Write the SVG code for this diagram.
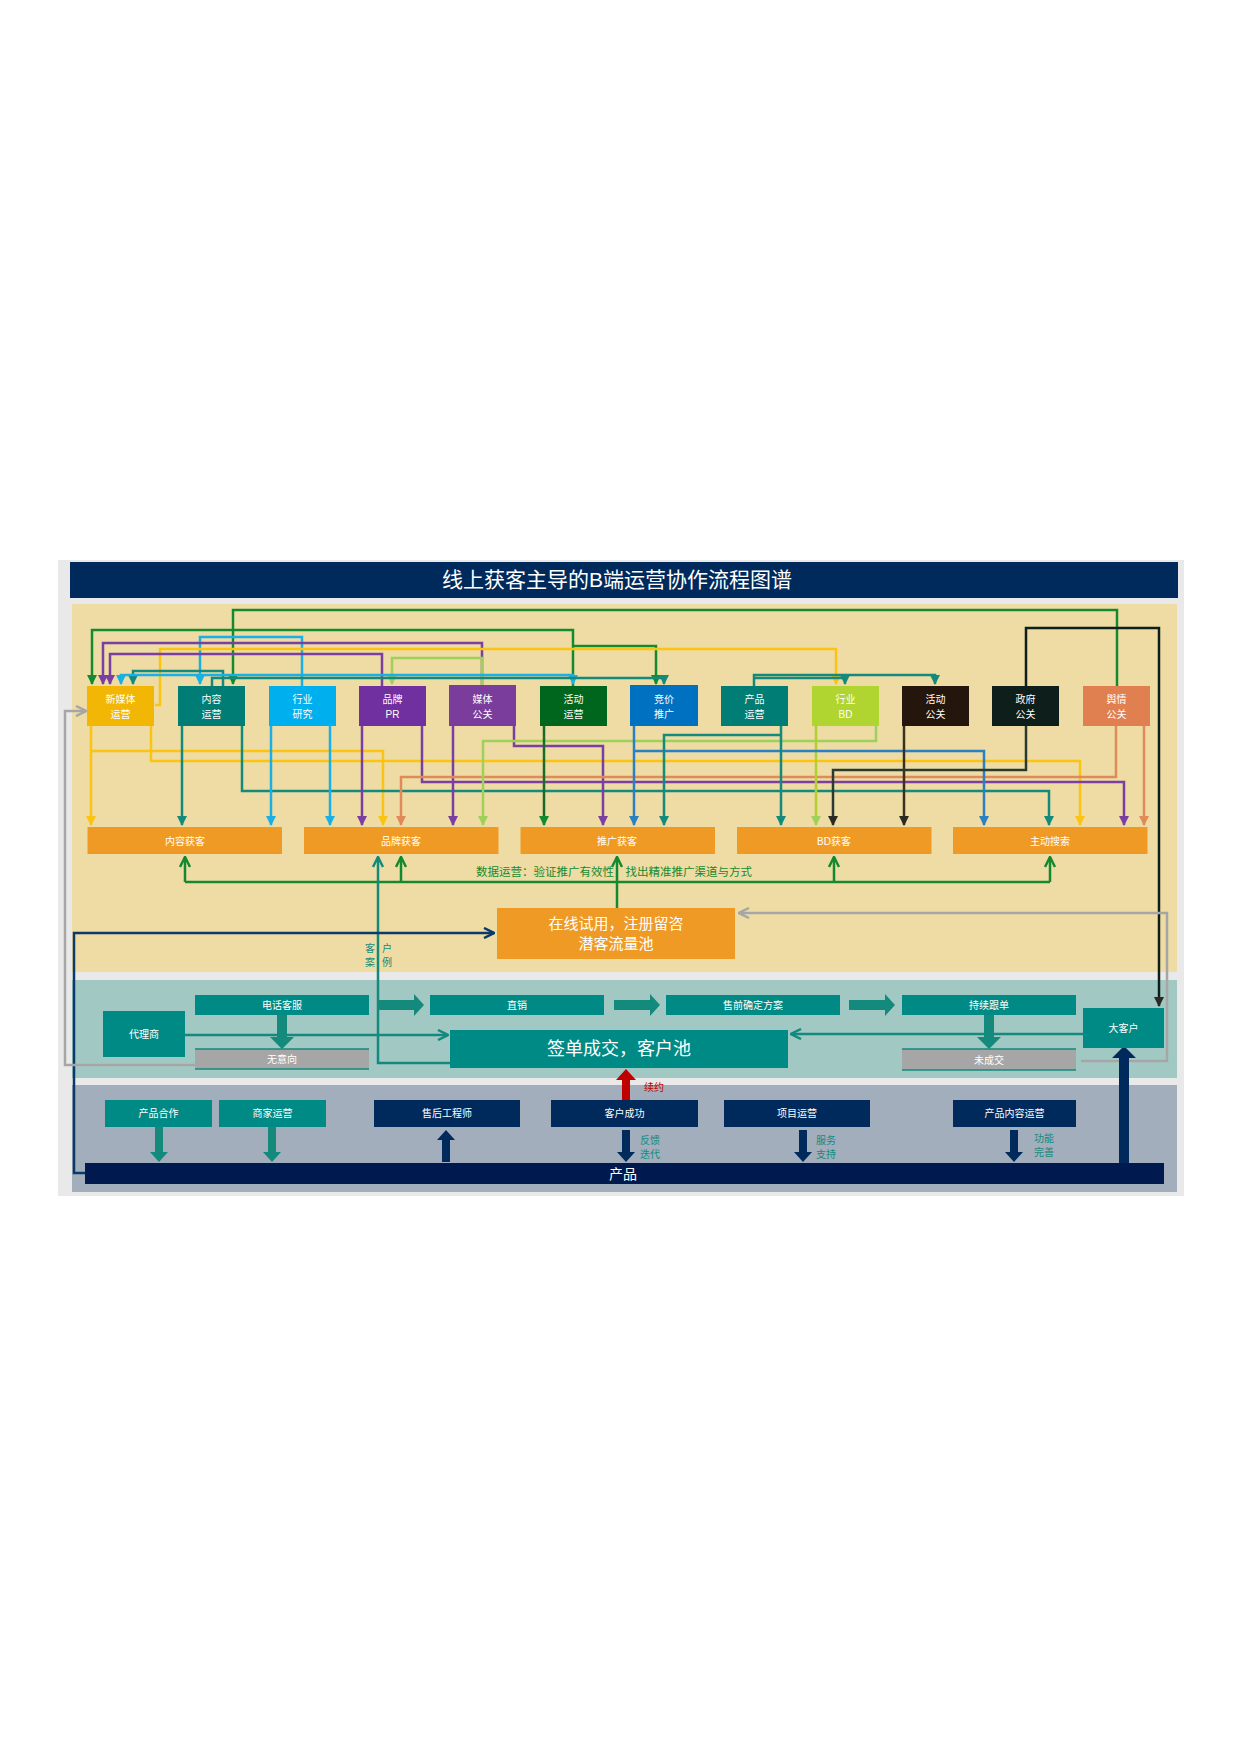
<svg xmlns="http://www.w3.org/2000/svg" width="1240" height="1754" viewBox="0 0 1240 1754">
<defs>
<style>
text{font-family:"Liberation Sans","Noto Sans CJK SC",sans-serif;fill:#fff;text-anchor:middle}
.s{font-size:10px}
.c{fill:none;stroke-width:2.5}
.t{fill:#008a86}
.n{fill:#002a5c}
</style>
<marker id="mY" viewBox="0 0 10 10" refX="9" refY="5" markerWidth="4" markerHeight="4" orient="auto"><path d="M0,0L10,5L0,10z" fill="#fbc312"/></marker>
<marker id="mT" viewBox="0 0 10 10" refX="9" refY="5" markerWidth="4" markerHeight="4" orient="auto"><path d="M0,0L10,5L0,10z" fill="#138a7c"/></marker>
<marker id="mC" viewBox="0 0 10 10" refX="9" refY="5" markerWidth="4" markerHeight="4" orient="auto"><path d="M0,0L10,5L0,10z" fill="#1ab0e6"/></marker>
<marker id="mP" viewBox="0 0 10 10" refX="9" refY="5" markerWidth="4" markerHeight="4" orient="auto"><path d="M0,0L10,5L0,10z" fill="#7a3fa0"/></marker>
<marker id="mL" viewBox="0 0 10 10" refX="9" refY="5" markerWidth="4" markerHeight="4" orient="auto"><path d="M0,0L10,5L0,10z" fill="#9fd05a"/></marker>
<marker id="mG" viewBox="0 0 10 10" refX="9" refY="5" markerWidth="4" markerHeight="4" orient="auto"><path d="M0,0L10,5L0,10z" fill="#148a30"/></marker>
<marker id="mB" viewBox="0 0 10 10" refX="9" refY="5" markerWidth="4" markerHeight="4" orient="auto"><path d="M0,0L10,5L0,10z" fill="#2a80c0"/></marker>
<marker id="mK" viewBox="0 0 10 10" refX="9" refY="5" markerWidth="4" markerHeight="4" orient="auto"><path d="M0,0L10,5L0,10z" fill="#2a2a22"/></marker>
<marker id="mO" viewBox="0 0 10 10" refX="9" refY="5" markerWidth="4" markerHeight="4" orient="auto"><path d="M0,0L10,5L0,10z" fill="#e08a5a"/></marker>
<marker id="mOpenG" viewBox="0 0 10 10" refX="9" refY="5" markerWidth="5" markerHeight="5" orient="auto"><path d="M1,1L9,5L1,9" fill="none" stroke="#148a30" stroke-width="2"/></marker>
<marker id="mOpenT" viewBox="0 0 10 10" refX="9" refY="5" markerWidth="5" markerHeight="5" orient="auto"><path d="M1,1L9,5L1,9" fill="none" stroke="#138a7c" stroke-width="2"/></marker>
<marker id="mOpenN" viewBox="0 0 10 10" refX="9" refY="5" markerWidth="5" markerHeight="5" orient="auto"><path d="M1,1L9,5L1,9" fill="none" stroke="#0a3a6a" stroke-width="2"/></marker>
<marker id="mOpenA" viewBox="0 0 10 10" refX="9" refY="5" markerWidth="5" markerHeight="5" orient="auto"><path d="M1,1L9,5L1,9" fill="none" stroke="#a6a6a6" stroke-width="2"/></marker>
</defs>
<rect width="1240" height="1754" fill="#fff"/>
<rect x="58" y="560" width="1126" height="636" fill="#e9e9e9"/>
<rect x="70" y="562" width="1108" height="36" fill="#002a5c"/>
<text x="617" y="587" font-size="21">线上获客主导的B端运营协作流程图谱</text>
<rect x="72" y="604" width="1105" height="368" fill="#eedca4"/>
<rect x="72" y="980" width="1105" height="98" fill="#a2c8c4"/>
<rect x="72" y="1085" width="1105" height="107" fill="#a2aebc"/>

<g id="connectors">
<polyline class="c" stroke="#148a30" points="1117,686 1117,610 233,610 233,684" marker-end="url(#mG)"/>
<polyline class="c" stroke="#148a30" points="573,686 573,630 92,630 92,684" marker-end="url(#mG)"/>
<polyline class="c" stroke="#148a30" points="573,646 656,646 656,684" marker-end="url(#mG)"/>
<polyline class="c" stroke="#1ab0e6" points="302,686 302,637 200,637 200,684" marker-end="url(#mC)"/>
<polyline class="c" stroke="#7a3fa0" points="482,686 482,643 103,643 103,684" marker-end="url(#mP)"/>
<polyline class="c" stroke="#fbc312" points="155,705 160,705 160,649 836,649 836,684" marker-end="url(#mY)"/>
<polyline class="c" stroke="#7a3fa0" points="382,686 382,654 110,654 110,684" marker-end="url(#mP)"/>
<polyline class="c" stroke="#9fd05a" points="482,686 482,658 392,658 392,684" marker-end="url(#mL)"/>
<polyline class="c" stroke="#138a7c" points="223,686 223,671 133,671 133,684" marker-end="url(#mT)"/>
<polyline class="c" stroke="#1ab0e6" points="302,675 121,675 121,684" marker-end="url(#mC)"/>
<polyline class="c" stroke="#1ab0e6" points="302,675 573,675 573,684" marker-end="url(#mC)"/>
<polyline class="c" stroke="#138a7c" points="212,686 212,678 664,678 664,684" marker-end="url(#mT)"/>
<polyline class="c" stroke="#138a7c" points="754,686 754,675 935,675 935,684" marker-end="url(#mT)"/>
<polyline class="c" stroke="#138a7c" points="754,678 845,678 845,684" marker-end="url(#mT)"/>
<polyline class="c" stroke="#0d1f1a" points="1026,686 1026,628 1159,628 1159,1006" marker-end="url(#mK)"/>
<polyline class="c" stroke="#fbc312" points="91,726 91,825" marker-end="url(#mY)"/>
<polyline class="c" stroke="#fbc312" points="91,751 383,751 383,825" marker-end="url(#mY)"/>
<polyline class="c" stroke="#fbc312" points="151,726 151,761 1080,761 1080,825" marker-end="url(#mY)"/>
<polyline class="c" stroke="#138a7c" points="182,726 182,825" marker-end="url(#mT)"/>
<polyline class="c" stroke="#138a7c" points="242,726 242,791 1049,791 1049,825" marker-end="url(#mT)"/>
<polyline class="c" stroke="#1ab0e6" points="271,726 271,825" marker-end="url(#mC)"/>
<polyline class="c" stroke="#1ab0e6" points="330,726 330,825" marker-end="url(#mC)"/>
<polyline class="c" stroke="#7a3fa0" points="362,726 362,825" marker-end="url(#mP)"/>
<polyline class="c" stroke="#7a3fa0" points="422,726 422,782 1124,782 1124,825" marker-end="url(#mP)"/>
<polyline class="c" stroke="#7a3fa0" points="453,726 453,825" marker-end="url(#mP)"/>
<polyline class="c" stroke="#7a3fa0" points="514,726 514,746 603,746 603,825" marker-end="url(#mP)"/>
<polyline class="c" stroke="#e08a5a" points="1116,726 1116,777 401,777 401,825" marker-end="url(#mO)"/>
<polyline class="c" stroke="#e08a5a" points="1144,726 1144,825" marker-end="url(#mO)"/>
<polyline class="c" stroke="#9fd05a" points="876,726 876,741 483,741 483,825" marker-end="url(#mL)"/>
<polyline class="c" stroke="#b0d030" points="816,726 816,825" marker-end="url(#mL)"/>
<polyline class="c" stroke="#1a6a2a" points="544,726 544,825" marker-end="url(#mG)"/>
<polyline class="c" stroke="#2a80c0" points="634,726 634,825" marker-end="url(#mB)"/>
<polyline class="c" stroke="#2a80c0" points="634,751 984,751 984,825" marker-end="url(#mB)"/>
<polyline class="c" stroke="#138a7c" points="781,726 781,825" marker-end="url(#mT)"/>
<polyline class="c" stroke="#138a7c" points="781,735 664,735 664,825" marker-end="url(#mT)"/>
<polyline class="c" stroke="#3a3020" points="904,726 904,825" marker-end="url(#mK)"/>
<polyline class="c" stroke="#2a3a30" points="1026,726 1026,770 833,770 833,825" marker-end="url(#mK)"/>
<polyline class="c" stroke="#148a30" points="617,908 617,882"/>
<polyline class="c" stroke="#148a30" points="185,882 1050,882"/>
<polyline class="c" stroke="#148a30" points="185,882 185,857" marker-end="url(#mOpenG)"/>
<polyline class="c" stroke="#148a30" points="401,882 401,857" marker-end="url(#mOpenG)"/>
<polyline class="c" stroke="#148a30" points="617,882 617,857" marker-end="url(#mOpenG)"/>
<polyline class="c" stroke="#148a30" points="834,882 834,857" marker-end="url(#mOpenG)"/>
<polyline class="c" stroke="#148a30" points="1050,882 1050,857" marker-end="url(#mOpenG)"/>
<polyline class="c" stroke="#138a7c" points="450,1063 378,1063 378,857" marker-end="url(#mOpenT)"/>
<polyline class="c" stroke="#0a3a6a" points="85,1173 74,1173 74,933 494,933" marker-end="url(#mOpenN)"/>
<polyline class="c" stroke="#a6a6a6" points="195,1065 65,1065 65,711 86,711" marker-end="url(#mOpenA)"/>
<polyline class="c" stroke="#a6a6a6" points="1081,1061 1167,1061 1167,913 739,913" marker-end="url(#mOpenA)"/>
<polyline class="c" stroke="#138a7c" points="185,1035 448,1035" marker-end="url(#mOpenT)"/>
<polyline class="c" stroke="#138a7c" points="1083,1034 791,1034" marker-end="url(#mOpenT)"/>
<polygon points="378,1000 414,1000 414,994 424,1005 414,1016 414,1010 378,1010" fill="#138a7c"/>
<polygon points="614,1000 650,1000 650,994 660,1005 650,1016 650,1010 614,1010" fill="#138a7c"/>
<polygon points="849,1000 885,1000 885,994 895,1005 885,1016 885,1010 849,1010" fill="#138a7c"/>
<polygon points="277,1015 287,1015 287,1037 294,1037 282,1049 270,1037 277,1037" fill="#138a7c"/>
<polygon points="984,1015 994,1015 994,1037 1001,1037 989,1049 977,1037 984,1037" fill="#138a7c"/>
<polygon points="1119,1176 1129,1176 1129,1058 1136,1058 1124,1046 1112,1058 1119,1058" fill="#002a5c"/>
<polygon points="622,1100 630,1100 630,1080 636,1080 626,1069 616,1080 622,1080" fill="#c00000"/>
<polygon points="155,1127 163,1127 163,1152 168,1152 159,1162 150,1152 155,1152" fill="#138a7c"/>
<polygon points="268,1127 276,1127 276,1152 281,1152 272,1162 263,1152 268,1152" fill="#138a7c"/>
<polygon points="442,1162 450,1162 450,1140 455,1140 446,1130 437,1140 442,1140" fill="#002a5c"/>
<polygon points="622,1130 630,1130 630,1152 635,1152 626,1162 617,1152 622,1152" fill="#002a5c"/>
<polygon points="799,1130 807,1130 807,1152 812,1152 803,1162 794,1152 799,1152" fill="#002a5c"/>
<polygon points="1010,1130 1018,1130 1018,1152 1023,1152 1014,1162 1005,1152 1010,1152" fill="#002a5c"/>
</g>

<g id="n1"><rect x="87" y="686" width="67" height="40" fill="#f2b705"/><text class="s" x="120.5" y="703">新媒体</text><text class="s" x="120.5" y="718">运营</text></g>
<g id="n2"><rect x="178" y="686" width="67" height="40" fill="#007d74"/><text class="s" x="211.5" y="703">内容</text><text class="s" x="211.5" y="718">运营</text></g>
<g id="n3"><rect x="269" y="686" width="67" height="40" fill="#00b0ee"/><text class="s" x="302.5" y="703">行业</text><text class="s" x="302.5" y="718">研究</text></g>
<g id="n4"><rect x="359" y="686" width="67" height="40" fill="#7030a0"/><text class="s" x="392.5" y="703">品牌</text><text class="s" x="392.5" y="718">PR</text></g>
<g id="n5"><rect x="449" y="685" width="67" height="41" fill="#7a3d9c"/><text class="s" x="482.5" y="703">媒体</text><text class="s" x="482.5" y="718">公关</text></g>
<g id="n6"><rect x="540" y="686" width="67" height="40" fill="#00651d"/><text class="s" x="573.5" y="703">活动</text><text class="s" x="573.5" y="718">运营</text></g>
<g id="n7"><rect x="630" y="685" width="68" height="41" fill="#0070c0"/><text class="s" x="664" y="703">竞价</text><text class="s" x="664" y="718">推广</text></g>
<g id="n8"><rect x="721" y="686" width="67" height="40" fill="#007d74"/><text class="s" x="754.5" y="703">产品</text><text class="s" x="754.5" y="718">运营</text></g>
<g id="n9"><rect x="812" y="686" width="67" height="40" fill="#b0d430"/><text class="s" x="845.5" y="703">行业</text><text class="s" x="845.5" y="718">BD</text></g>
<g id="n10"><rect x="902" y="686" width="67" height="40" fill="#24160c"/><text class="s" x="935.5" y="703">活动</text><text class="s" x="935.5" y="718">公关</text></g>
<g id="n11"><rect x="992" y="686" width="67" height="40" fill="#0e1e1a"/><text class="s" x="1025.5" y="703">政府</text><text class="s" x="1025.5" y="718">公关</text></g>
<g id="n12"><rect x="1083" y="686" width="67" height="40" fill="#e08050"/><text class="s" x="1116.5" y="703">舆情</text><text class="s" x="1116.5" y="718">公关</text></g>

<g id="b1"><rect x="87.5" y="827" width="194.5" height="27" fill="#f09a26"/><text class="s" x="185" y="845">内容获客</text></g>
<g id="b2"><rect x="304" y="827" width="194.5" height="27" fill="#f09a26"/><text class="s" x="401" y="845">品牌获客</text></g>
<g id="b3"><rect x="520.5" y="827" width="194.5" height="27" fill="#f09a26"/><text class="s" x="617" y="845">推广获客</text></g>
<g id="b4"><rect x="737" y="827" width="194.5" height="27" fill="#f09a26"/><text class="s" x="834" y="845">BD获客</text></g>
<g id="b5"><rect x="953" y="827" width="194.5" height="27" fill="#f09a26"/><text class="s" x="1050" y="845">主动搜索</text></g>
<text x="614" y="876" font-size="11.5" style="fill:#148a30">数据运营：验证推广有效性，找出精准推广渠道与方式</text>

<g id="pool"><rect x="497" y="908" width="238" height="51" fill="#f09a26"/><text x="616" y="929" font-size="15">在线试用，注册留咨</text><text x="616" y="949" font-size="15">潜客流量池</text></g>
<text class="s" x="370" y="952" style="fill:#138a7c">客</text><text class="s" x="387" y="952" style="fill:#138a7c">户</text>
<text class="s" x="370" y="966" style="fill:#138a7c">案</text><text class="s" x="387" y="966" style="fill:#138a7c">例</text>

<g id="s1"><rect class="t" x="195" y="995" width="174" height="20"/><text class="s" x="282" y="1009">电话客服</text></g>
<g id="s2"><rect class="t" x="103" y="1011" width="82" height="46"/><text class="s" x="144" y="1038">代理商</text></g>
<g id="s3"><rect x="195" y="1049" width="174" height="20" fill="#a6a6a6"/><line x1="195" y1="1049" x2="369" y2="1049" stroke="#138a7c" stroke-width="1.5"/><line x1="195" y1="1069" x2="369" y2="1069" stroke="#138a7c" stroke-width="1.5"/><text class="s" x="282" y="1063">无意向</text></g>
<g id="s4"><rect class="t" x="430" y="995" width="174" height="20"/><text class="s" x="517" y="1009">直销</text></g>
<g id="s5"><rect class="t" x="666" y="995" width="174" height="20"/><text class="s" x="753" y="1009">售前确定方案</text></g>
<g id="s6"><rect class="t" x="902" y="995" width="174" height="20"/><text class="s" x="989" y="1009">持续跟单</text></g>
<g id="s7"><rect x="902" y="1049" width="174" height="21" fill="#a6a6a6"/><line x1="902" y1="1049" x2="1076" y2="1049" stroke="#138a7c" stroke-width="1.5"/><line x1="902" y1="1070" x2="1076" y2="1070" stroke="#138a7c" stroke-width="1.5"/><text class="s" x="989" y="1064">未成交</text></g>
<g id="s8"><rect class="t" x="450" y="1030" width="338" height="38"/><text x="619" y="1055" font-size="18">签单成交，客户池</text></g>
<g id="s9"><rect class="t" x="1083" y="1008" width="81" height="40"/><text class="s" x="1123.5" y="1032">大客户</text></g>
<text class="s" x="654" y="1091" style="fill:#c00000">续约</text>

<g id="p1"><rect class="t" x="105" y="1100" width="107" height="27"/><text class="s" x="158.5" y="1117">产品合作</text></g>
<g id="p2"><rect class="t" x="219" y="1100" width="107" height="27"/><text class="s" x="272.5" y="1117">商家运营</text></g>
<g id="p3"><rect class="n" x="374" y="1100" width="146" height="27"/><text class="s" x="447" y="1117">售后工程师</text></g>
<g id="p4"><rect class="n" x="551" y="1100" width="147" height="27"/><text class="s" x="624.5" y="1117">客户成功</text></g>
<g id="p5"><rect class="n" x="724" y="1100" width="146" height="27"/><text class="s" x="797" y="1117">项目运营</text></g>
<g id="p6"><rect class="n" x="953" y="1100" width="123" height="27"/><text class="s" x="1014.5" y="1117">产品内容运营</text></g>
<text class="s" x="650" y="1144" style="fill:#138a7c">反馈</text><text class="s" x="650" y="1158" style="fill:#138a7c">迭代</text>
<text class="s" x="826" y="1144" style="fill:#138a7c">服务</text><text class="s" x="826" y="1158" style="fill:#138a7c">支持</text>
<text class="s" x="1044" y="1142" style="fill:#138a7c">功能</text><text class="s" x="1044" y="1156" style="fill:#138a7c">完善</text>
<g id="prod"><rect x="85" y="1163" width="1079" height="21" fill="#001a50"/><text x="623" y="1179" font-size="14">产品</text></g>
</svg>
